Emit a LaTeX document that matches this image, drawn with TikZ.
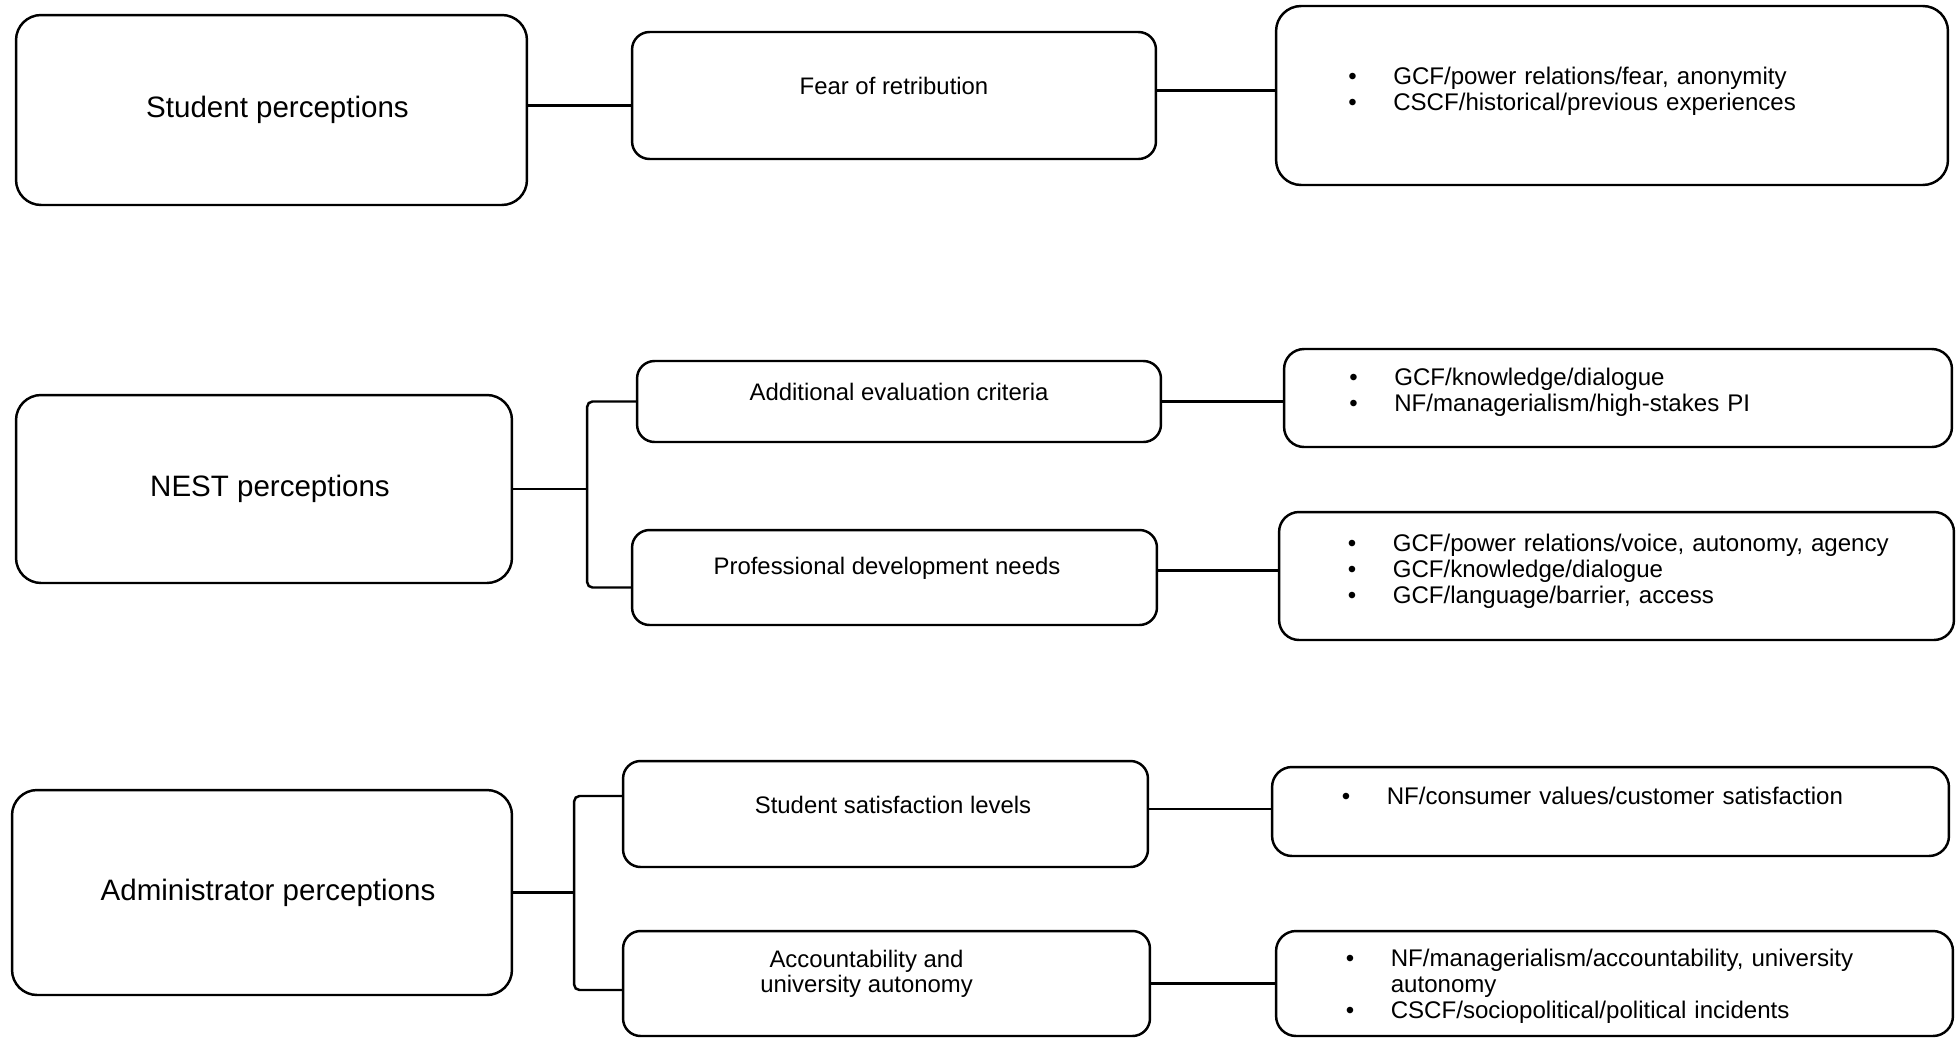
\documentclass[tikz,border=0pt]{standalone}
\usepackage{fontspec}
\setmainfont{Liberation Sans}
\usepackage{tikz}
\tikzstyle{perception} = [rectangle, rounded corners=0.5cm, draw=black, line width=1.4pt]
\tikzstyle{theme} = [rectangle, rounded corners=0.35cm, draw=black, line width=1.4pt]
\tikzstyle{codebox} = [rectangle, rounded corners=0.4cm, draw=black, line width=1.4pt]
\tikzstyle{perceptiontext} = [font=\fontsize{16.8}{19}\selectfont, xshift=0.12cm]
\tikzstyle{themetext} = [font=\fontsize{13.6}{14.5}\selectfont, align=center, yshift=0.19cm]
\tikzstyle{codetext} = [font=\fontsize{13.7}{14.8}\selectfont, align=left, text width=13.45cm, inner xsep=0pt]
\tikzstyle{link} = [line width=1.4pt]
\newcommand{\bitem}{\hspace*{1.35cm}\makebox[0.9cm][l]{\textbullet}}

\begin{document}
\begin{tikzpicture}[x=0.02cm, y=-0.02cm]
  \useasboundingbox (0, 0) rectangle (1959, 1038);

  \node (student) [perception, minimum width=10.22cm, minimum height=3.8cm, label={[perceptiontext]center:{Student perceptions}}] at (271.5, 110) {};
  \node (fear) [theme, minimum width=10.48cm, minimum height=2.54cm, label={[themetext]center:{Fear of retribution}}] at (894, 95.5) {};
  \node (fearnote) [codebox, rounded corners=0.5cm, minimum width=13.44cm, minimum height=3.58cm, label={[codetext, xshift=0.1cm, yshift=0.08cm]center:{\bitem GCF/power relations/fear, anonymity\\ \bitem CSCF/historical/previous experiences}}] at (1612, 95.5) {};
  \coordinate (fearin) at ([yshift=-0.2cm]fear.west);
  \coordinate (fearout) at ([yshift=0.1cm]fear.east);
  \draw [link] (student.east |- fearin) -- (fearin);
  \draw [link] (fearout) -- (fearout -| fearnote.west);

  \node (nest) [perception, minimum width=9.92cm, minimum height=3.76cm, label={[perceptiontext]center:{NEST perceptions}}] at (264, 489) {};
  \node (criteria) [theme, minimum width=10.48cm, minimum height=1.62cm, label={[themetext]center:{Additional evaluation criteria}}] at (899, 401.5) {};
  \node (criterianote) [codebox, minimum width=13.36cm, minimum height=1.96cm, label={[codetext, yshift=0.12cm]center:{\bitem GCF/knowledge/dialogue\\ \bitem NF/managerialism/high-stakes PI}}] at (1618, 398) {};
  \node (needs) [theme, minimum width=10.5cm, minimum height=1.9cm, label={[themetext, xshift=-0.15cm]center:{Professional development needs}}] at (894.5, 577.5) {};
  \node (needsnote) [codebox, minimum width=13.5cm, minimum height=2.56cm, label={[codetext, yshift=0.1cm]center:{\bitem GCF/power relations/voice, autonomy, agency\\ \bitem GCF/knowledge/dialogue\\ \bitem GCF/language/barrier, access}}] at (1616.5, 576) {};
  \coordinate (needsout) at ([yshift=0.14cm]needs.east);
  \draw [link] (nest.east) -- ++(74, 0) coordinate (nestfork);
  \draw [link, rounded corners=3pt] (criteria.west) -| (nestfork) |- ([yshift=-0.2cm]needs.west);
  \draw [link] (criteria.east) -- (criteria.east -| criterianote.west);
  \draw [link] (needsout) -- (needsout -| needsnote.west);

  \node (admin) [perception, minimum width=10cm, minimum height=4.1cm, label={[perceptiontext]center:{Administrator perceptions}}] at (262, 892.5) {};
  \node (satisfaction) [theme, minimum width=10.5cm, minimum height=2.12cm, label={[themetext, xshift=0.15cm]center:{Student satisfaction levels}}] at (885.5, 814) {};
  \node (satisfactionnote) [codebox, minimum width=13.54cm, minimum height=1.78cm, label={[codetext, yshift=0.31cm]center:{\bitem NF/consumer values/customer satisfaction}}] at (1610.5, 811.5) {};
  \node (autonomy) [theme, minimum width=10.54cm, minimum height=2.1cm, label={[themetext, xshift=-0.4cm]center:{Accountability and\\ university autonomy}}] at (886.5, 983.5) {};
  \node (autonomynote) [codebox, minimum width=13.54cm, minimum height=2.1cm, label={[codetext, yshift=-0.06cm]center:{\bitem NF/managerialism/accountability, university\\ \hspace*{2.25cm}autonomy\\ \bitem CSCF/sociopolitical/political incidents}}] at (1614.5, 983.5) {};
  \coordinate (satisfactionout) at ([yshift=0.1cm]satisfaction.east);
  \draw [link] (admin.east) -- ++(61, 0) coordinate (adminfork);
  \draw [link, rounded corners=3pt] ([yshift=0.36cm]satisfaction.west) -| (adminfork) |- ([yshift=-0.13cm]autonomy.west);
  \draw [link] (satisfactionout) -- (satisfactionout -| satisfactionnote.west);
  \draw [link] (autonomy.east) -- (autonomy.east -| autonomynote.west);
\end{tikzpicture}
\end{document}
